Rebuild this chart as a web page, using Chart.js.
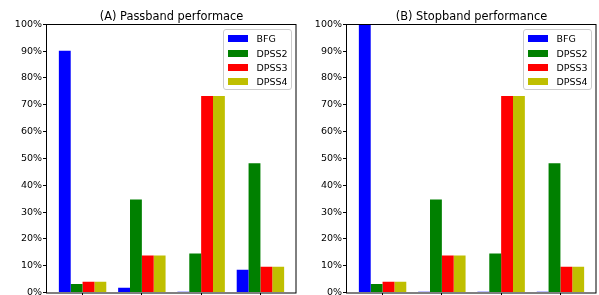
<!DOCTYPE html>
<html><head><meta charset="utf-8">
<script src="https://cdn.jsdelivr.net/npm/chart.js@4"></script>
<style>
html,body{margin:0;padding:0;background:#fff;}
#wrap{position:relative;width:599px;height:295px;overflow:hidden;}
canvas{position:absolute;top:0;}
.legend{position:absolute;border:1px solid #ccc;border-radius:3px;background:rgba(255,255,255,0.8);font-family:'DejaVu Sans';font-size:9.5px;color:#000;padding:1.5px 0 2px 0;box-sizing:border-box;width:69px;height:61px;}
.row{height:14.3px;display:flex;align-items:center;white-space:nowrap;}
.sw{width:20px;height:7px;margin-left:3.5px;margin-right:9px;flex:none;}
</style></head>
<body><div id="wrap">
<canvas id="c1" width="300" height="295" style="left:0"></canvas>
<canvas id="c2" width="299" height="295" style="left:300px"></canvas>
</div>
<script>
const categories = [0, 1, 2, 3];
const seriesNames = ['BFG', 'DPSS2', 'DPSS3', 'DPSS4'];
const seriesColors = ['#0000ff', '#008000', '#ff0000', '#bfbf00'];
const yTicks = [0, 10, 20, 30, 40, 50, 60, 70, 80, 90, 100];

const passBFG   = [90.1, 1.8, 0.3, 8.5];
const passDPSS2 = [3.2, 34.7, 14.5, 48.2];
const passDPSS3 = [4.0, 13.8, 73.3, 9.6];
const passDPSS4 = [4.0, 13.8, 73.3, 9.6];

const stopBFG   = [100, 0.3, 0.3, 0.3];
const stopDPSS2 = [3.2, 34.7, 14.5, 48.2];
const stopDPSS3 = [4.0, 13.8, 73.3, 9.6];
const stopDPSS4 = [4.0, 13.8, 73.3, 9.6];

const titleA = '(A) Passband performace';
const titleB = '(B) Stopband performance';

Chart.defaults.font.family = 'DejaVu Sans';
Chart.defaults.color = '#000';

const framePlugin = {
  id: 'frame',
  afterDraw(chart) {
    const a = chart.chartArea, ctx = chart.ctx;
    ctx.save();
    ctx.strokeStyle = '#000';
    ctx.lineWidth = 1;
    ctx.strokeRect(Math.round(a.left) - 0.5, Math.round(a.top) + 0.5, Math.round(a.right) - Math.round(a.left) + 0.5, Math.round(a.bottom) - Math.round(a.top) - 0.5);
    ctx.restore();
  }
};

function makeChart(id, title, seriesVals, padRight) {
  const datasets = seriesVals.map((vals, i) => ({
    label: seriesNames[i],
    data: categories.map((c, j) => ({x: c, y: vals[j]})),
    backgroundColor: seriesColors[i],
    borderWidth: 0,
    categoryPercentage: 0.8,
    barPercentage: 1.0
  }));
  const chart = new Chart(document.getElementById(id), {
    type: 'bar',
    data: {datasets},
    plugins: [framePlugin],
    options: {
      responsive: false,
      animation: false,
      events: [],
      layout: {padding: {left: 0, right: padRight, top: 0, bottom: 0}},
      plugins: {
        legend: {display: false},
        tooltip: {enabled: false},
        title: {
          display: true, text: title, fullSize: false,
          color: '#000',
          font: {size: 11.4, weight: 'normal', family: 'DejaVu Sans'},
          padding: {top: 10, bottom: 0.6}
        }
      },
      scales: {
        x: {
          type: 'linear', min: -0.6, max: 3.6, offset: false,
          grid: {display: true, drawOnChartArea: false, drawTicks: true, tickLength: 3, color: '#000', offset: false},
          border: {display: false},
          ticks: {display: false},
          afterBuildTicks(s) { s.ticks = categories.map(v => ({value: v})); },
          afterFit(s) { s.height = 2.5; s.paddingLeft = 0; s.paddingRight = 0; }
        },
        y: {
          min: 0, max: 100,
          grid: {display: true, drawOnChartArea: false, drawTicks: true, tickLength: 4, color: '#000'},
          border: {display: false},
          ticks: {
            padding: 1, color: '#000', font: {size: 9.5},
            callback: v => v + '%'
          },
          afterBuildTicks(s) { s.ticks = yTicks.map(v => ({value: v})); },
          afterFit(s) { s.width = 47; s.paddingTop = 0; s.paddingBottom = 0; }
        }
      }
    }
  });
  return chart;
}

function makeLegend(chart, offsetLeft) {
  const a = chart.chartArea;
  const box = document.createElement('div');
  box.className = 'legend';
  box.style.left = (offsetLeft + a.right - 4 - 69) + 'px';
  box.style.top = (a.top + 5) + 'px';
  seriesNames.forEach((n, i) => {
    const row = document.createElement('div');
    row.className = 'row';
    const sw = document.createElement('span');
    sw.className = 'sw';
    sw.style.background = seriesColors[i];
    const t = document.createElement('span');
    t.textContent = n;
    row.appendChild(sw); row.appendChild(t);
    box.appendChild(row);
  });
  document.getElementById('wrap').appendChild(box);
}

const c1 = makeChart('c1', titleA, [passBFG, passDPSS2, passDPSS3, passDPSS4], 4);
const c2 = makeChart('c2', titleB, [stopBFG, stopDPSS2, stopDPSS3, stopDPSS4], 3);
makeLegend(c1, 0);
makeLegend(c2, 300);
</script>
</body></html>
